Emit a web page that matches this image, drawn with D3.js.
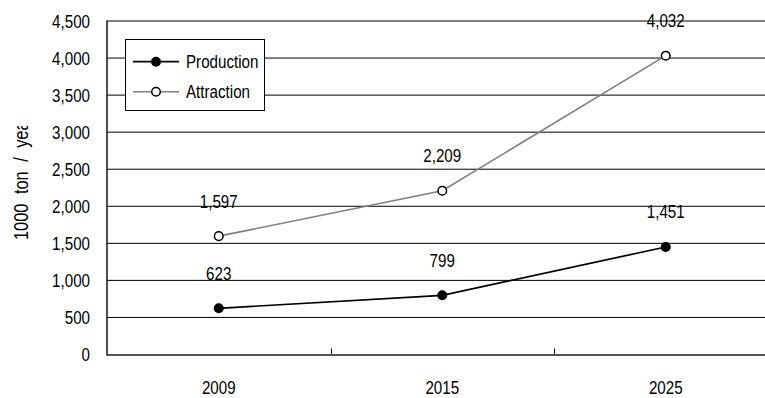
<!DOCTYPE html>
<html>
<head>
<meta charset="utf-8">
<script src="https://cdn.jsdelivr.net/npm/d3@7"></script>
<style>
  body { margin: 0; background: #fff; }
  svg { display: block; }
  text { font-family: "Liberation Sans", Arial, sans-serif; font-size: 18.5px; fill: #000; }
</style>
</head>
<body>
<div id="chart"></div>
<script>
// chart data
var years = ["2009", "2015", "2025"];
var production = [623, 799, 1451];
var attraction = [1597, 2209, 4032];
var yTicks = [0, 500, 1000, 1500, 2000, 2500, 3000, 3500, 4000, 4500];
var seriesNames = ["Production", "Attraction"];

var svgWidth = 765;
var svgHeight = 398;
var narrow = 0.82; // the original uses a narrow face

var plot = { left: 107, right: 777.5, top: 21, bottom: 354.5 };

var svg = d3.select("#chart")
  .append("svg")
  .attr("width", svgWidth)
  .attr("height", svgHeight);

var x = d3.scaleBand()
  .domain(years)
  .range([plot.left, plot.right])
  .padding(0);

var y = d3.scaleLinear()
  .domain([0, 4500])
  .range([plot.bottom, plot.top]);

var fmt = d3.format(",");
var cx = (d, i) => x(years[i]) + x.bandwidth() / 2;

// squeezed text placed at (px, py)
function squeeze(sel, px, py) {
  return sel.attr("transform", (d, i) =>
    `translate(${px(d, i)}, ${py(d, i)}) scale(${narrow}, 1)`);
}

// gridlines
svg.append("g")
  .selectAll("line")
  .data(yTicks.filter(d => d > 0))
  .enter()
  .append("line")
  .attr("x1", plot.left)
  .attr("x2", plot.right)
  .attr("y1", d => y(d))
  .attr("y2", d => y(d))
  .attr("stroke", "#000")
  .attr("stroke-width", 1);

// y tick labels
svg.append("g")
  .selectAll("text")
  .data(yTicks)
  .enter()
  .append("text")
  .attr("text-anchor", "end")
  .text(d => fmt(d))
  .call(squeeze, () => 90, d => y(d) + 6.7);

// x axis with inside ticks at category boundaries
var bounds = years.map(d => x(d)).concat([plot.right]);
svg.append("g")
  .selectAll("line")
  .data(bounds.slice(1))
  .enter()
  .append("line")
  .attr("x1", d => Math.round(d) + 0.5)
  .attr("x2", d => Math.round(d) + 0.5)
  .attr("y1", plot.bottom - 6)
  .attr("y2", plot.bottom)
  .attr("stroke", "#000");

svg.append("line")
  .attr("x1", plot.left)
  .attr("x2", plot.right)
  .attr("y1", plot.bottom + 0.5)
  .attr("y2", plot.bottom + 0.5)
  .attr("stroke", "#555")
  .attr("stroke-width", 2);

svg.append("line")
  .attr("x1", plot.left)
  .attr("x2", plot.left)
  .attr("y1", plot.top - 0.5)
  .attr("y2", plot.bottom + 1)
  .attr("stroke", "#222")
  .attr("stroke-width", 1.6);

svg.append("g")
  .selectAll("text")
  .data(years)
  .enter()
  .append("text")
  .attr("text-anchor", "middle")
  .text(d => d)
  .call(squeeze, d => x(d) + x.bandwidth() / 2, () => 394);

// y axis title, clipped like the original
svg.append("clipPath")
  .attr("id", "ytclip")
  .append("rect")
  .attr("x", 0)
  .attr("y", 126)
  .attr("width", 40)
  .attr("height", 160);

svg.append("g")
  .attr("clip-path", "url(#ytclip)")
  .append("text")
  .attr("transform", `translate(28, 240) rotate(-90) scale(${narrow}, 1)`)
  .attr("text-anchor", "start")
  .style("font-size", "20px")
  .style("word-spacing", "6px")
  .text("1000 ton / year");

// lines
var line = d3.line()
  .x(cx)
  .y(d => y(d));

svg.append("path")
  .datum(attraction)
  .attr("d", line)
  .attr("fill", "none")
  .attr("stroke", "#808080")
  .attr("stroke-width", 1.6);

svg.append("path")
  .datum(production)
  .attr("d", line)
  .attr("fill", "none")
  .attr("stroke", "#000")
  .attr("stroke-width", 1.7);

svg.append("g")
  .selectAll("circle")
  .data(attraction)
  .enter()
  .append("circle")
  .attr("cx", cx)
  .attr("cy", d => y(d))
  .attr("r", 4.3)
  .attr("fill", "#fff")
  .attr("stroke", "#000")
  .attr("stroke-width", 1.5);

svg.append("g")
  .selectAll("circle")
  .data(production)
  .enter()
  .append("circle")
  .attr("cx", cx)
  .attr("cy", d => y(d))
  .attr("r", 5)
  .attr("fill", "#000");

// data labels
[production, attraction].forEach(function(series) {
  svg.append("g")
    .selectAll("text")
    .data(series)
    .enter()
    .append("text")
    .attr("text-anchor", "middle")
    .text(d => fmt(d))
    .call(squeeze, cx, d => y(d) - 28.5);
});

// legend
var legend = svg.append("g");
legend.append("rect")
  .attr("x", 125.5)
  .attr("y", 39.5)
  .attr("width", 139)
  .attr("height", 71)
  .attr("fill", "#fff")
  .attr("stroke", "#000");

var legendY = [61.7, 91.7];
seriesNames.forEach(function(name, i) {
  var g = legend.append("g");
  g.append("line")
    .attr("x1", 133)
    .attr("x2", 179)
    .attr("y1", legendY[i])
    .attr("y2", legendY[i])
    .attr("stroke", i === 0 ? "#000" : "#808080")
    .attr("stroke-width", i === 0 ? 1.7 : 1.6);
  g.append("circle")
    .attr("cx", 156)
    .attr("cy", legendY[i])
    .attr("r", i === 0 ? 5 : 4.3)
    .attr("fill", i === 0 ? "#000" : "#fff")
    .attr("stroke", "#000")
    .attr("stroke-width", i === 0 ? 0 : 1.5);
  g.append("text")
    .attr("transform", `translate(186, ${legendY[i] + 6.7}) scale(${narrow}, 1)`)
    .text(name);
});
</script>
</body>
</html>
